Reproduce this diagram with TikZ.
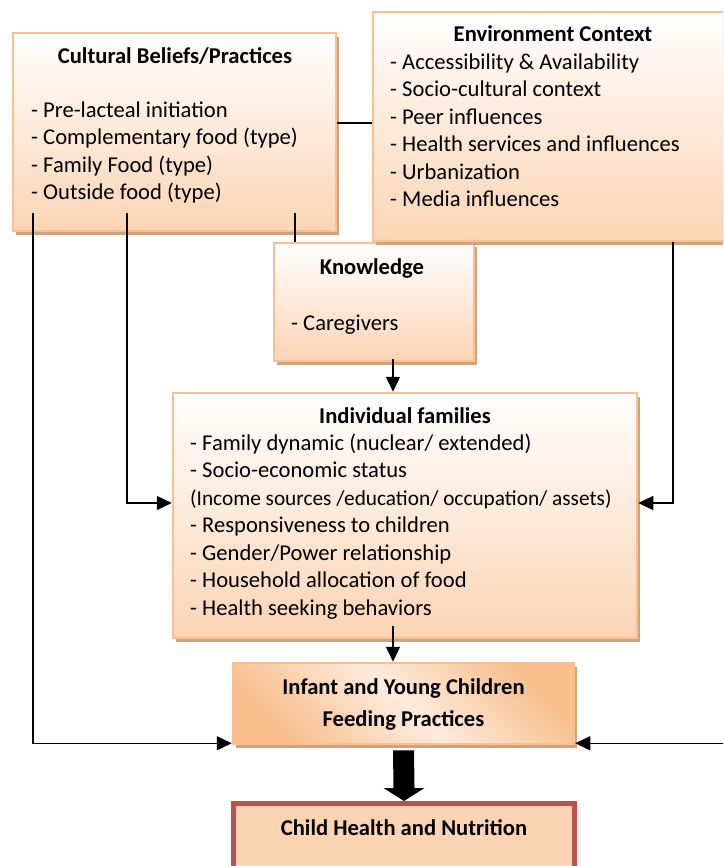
\documentclass[tikz,border=0pt]{standalone}
\usepackage{fontspec}
\setmainfont{Carlito}
\usetikzlibrary{arrows.meta,calc,shadows}
\definecolor{cPeachF}{HTML}{FBD4B4}
\definecolor{cPeachD}{HTML}{FAC090}
\definecolor{cShade}{HTML}{CDA382}
\definecolor{cFeedD}{HTML}{F9C08E}
\definecolor{cFeedL}{HTML}{FDEBDD}
\definecolor{cRedD}{HTML}{C0504D}
\tikzset{
  shadowed/.style = {drop shadow={shadow xshift=3pt, shadow yshift=-4pt,
                     fill=cShade, opacity=1}},
  box/.style     = {draw=cPeachD, line width=2.5pt, inner sep=0pt, shadowed,
                    top color=white, bottom color=cPeachF},
  feedbox/.style = {draw=cPeachD, line width=2.5pt, inner sep=0pt, shadowed,
                    left color=cFeedD, right color=cFeedD, middle color=cFeedL,
                    shading angle=-45},
  outbox/.style  = {draw=cRedD, line width=5pt, fill=cPeachF, inner sep=0pt},
  ttl/.style     = {font=\fontsize{22.6}{27.5}\selectfont\bfseries, anchor=base,
                    inner sep=0pt},
  lst/.style     = {font=\fontsize{22.6}{27.5}\selectfont, align=left,
                    anchor=base west, inner sep=0pt},
  link/.style    = {line width=1.5pt},
  conn/.style    = {line width=1.5pt, -{Triangle[length=15pt,width=14pt]}},
  bigarr/.style  = {fill=black},
}

\begin{document}
\begin{tikzpicture}[x=1pt, y=-1pt]
  \path[use as bounding box, clip] (0,0) rectangle (723,866);
  % boxes
  \node[box, minimum width=200pt, minimum height=118pt] (know) at (374,302) {};
  \node[box, minimum width=323pt, minimum height=198pt] (cult) at (174.5,132) {};
  \node[box, minimum width=360pt, minimum height=229pt] (env) at (553,126.5) {};
  \node[box, minimum width=464pt, minimum height=245pt] (indiv) at (405,515.5) {};
  \node[feedbox, minimum width=341pt, minimum height=81pt] (feed) at (403.5,703.5) {};
  \node[outbox, minimum width=341pt, minimum height=100pt] (child) at (404,853.5) {};
  % texts (multi-line nodes sit on their last baseline)
  \node[ttl] (cultT) at (175,64) {Cultural Beliefs/Practices};
  \node[lst] (cultL) at (31,200) {- Pre-lacteal initiation\\- Complementary food (type)\\- Family Food (type)\\- Outside food (type)};
  \node[ttl] (envT) at (553,42) {Environment Context};
  \node[lst] (envL) at (390,207) {- Accessibility \& Availability\\- Socio-cultural context\\- Peer influences\\- Health services and influences\\- Urbanization\\- Media influences};
  \node[ttl] (knowT) at (372,274) {Knowledge};
  \node[lst] (knowL) at (291,330) {- Caregivers};
  \node[ttl] (indivT) at (405,423) {Individual families};
  \node[lst] (indivL) at (190,615) {- Family dynamic (nuclear/ extended)\\- Socio-economic status\\{\fontsize{21.3}{27.5}\selectfont(Income sources /education/ occupation/ assets)}\\- Responsiveness to children\\- Gender/Power relationship\\- Household allocation of food\\- Health seeking behaviors};
  \node[ttl, align=center, font=\fontsize{22.6}{32}\selectfont\bfseries] (feedT) at (403.5,726) {Infant and Young Children\\Feeding Practices};
  \node[ttl] (childT) at (404,835) {Child Health and Nutrition};
  % connectors
  \coordinate (cA) at ([xshift=21pt,yshift=19pt]cult.south west);
  \coordinate (cB) at ([xshift=115pt,yshift=19pt]cult.south west);
  \coordinate (cK) at ([xshift=283pt,yshift=19pt]cult.south west);
  \coordinate (eA) at ([xshift=120pt]env.south);
  \coordinate (kA) at ([xshift=19pt,yshift=3pt]know.south);
  \coordinate (iA) at ([xshift=-12pt,yshift=13pt]indiv.south);
  \coordinate (rimR) at (724,743.25);
  \draw[link] ([yshift=9pt]cult.east) -- ([yshift=9pt]cult.east -| env.west);
  \draw[link] (cK) -- (cK |- know.north);
  \draw[conn] (kA) -- (kA |- indiv.north);
  \draw[conn] (iA) -- (iA |- feed.north);
  \draw[conn] (cB) |- ([yshift=12.5pt]indiv.west);
  \draw[conn] (eA) |- ([yshift=12.5pt]indiv.east);
  \draw[conn] (cA) |- ([yshift=2pt]feed.south west);
  \draw[conn] (rimR) -- (rimR -| feed.east);
  % block arrow to the outcome
  \fill[bigarr] ($(feed.south)+(-10.5,5)$) -- ($(feed.south)+(10.5,5)$)
    -- ($(child.north)+(10.5,-13)$) -- ($(child.north)+(20.5,-13)$)
    -- (child.north) -- ($(child.north)+(-20.5,-13)$)
    -- ($(child.north)+(-10.5,-13)$) -- cycle;
\end{tikzpicture}
\end{document}
